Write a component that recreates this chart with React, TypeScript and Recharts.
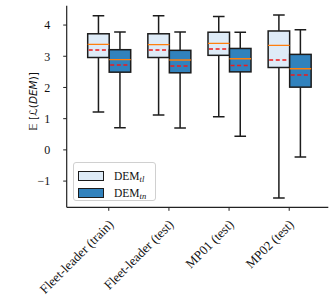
import React from "react";
import { ComposedChart, Bar, XAxis, YAxis } from "recharts";

// box statistics, one entry per category
const categories = [
  "Fleet-leader (train)",
  "Fleet-leader (test)",
  "MP01 (test)",
  "MP02 (test)",
];

const tlMin = [1.21, 1.12, 1.06, -1.54];
const tlQ1 = [2.96, 2.96, 3.03, 2.64];
const tlMedian = [3.38, 3.37, 3.41, 3.35];
const tlMean = [3.2, 3.2, 3.23, 2.88];
const tlQ3 = [3.72, 3.72, 3.77, 3.81];
const tlMax = [4.3, 4.3, 4.27, 4.32];

const tnMin = [0.71, 0.7, 0.44, -0.23];
const tnQ1 = [2.49, 2.47, 2.5, 2.01];
const tnMedian = [2.89, 2.88, 2.92, 2.6];
const tnMean = [2.72, 2.69, 2.7, 2.4];
const tnQ3 = [3.21, 3.19, 3.25, 3.06];
const tnMax = [3.78, 3.78, 3.77, 3.85];

const yTicks = [-1, 0, 1, 2, 3, 4];

const LIGHT = "#deebf7";
const DARK = "#3182bd";
const EDGE = "#1c1c1c";
const SERIF = "'Liberation Serif', 'DejaVu Serif', serif";

const data = categories.map((name, i) => ({
  name,
  tl: [tlMin[i], tlMax[i]],
  tn: [tnMin[i], tnMax[i]],
  tlStats: { min: tlMin[i], q1: tlQ1[i], med: tlMedian[i], mean: tlMean[i], q3: tlQ3[i], max: tlMax[i] },
  tnStats: { min: tnMin[i], q1: tnQ1[i], med: tnMedian[i], mean: tnMean[i], q3: tnQ3[i], max: tnMax[i] },
}));

// the bar is the whisker range [min, max]; everything else is placed on
// the same linear scale the bar was drawn with
function makeBoxShape(key: "tlStats" | "tnStats", fill: string) {
  return (props: any) => {
    const { x, y, width, height, payload } = props;
    const s = payload[key];
    const top = Math.min(y, y + height);
    const bot = Math.max(y, y + height);
    const py = (v: number) => top + ((s.max - v) / (s.max - s.min)) * (bot - top);
    const cx = x + width / 2;
    const cap = width * 0.27;
    return (
      <g>
        <line x1={cx} x2={cx} y1={py(s.max)} y2={py(s.q3)} stroke={EDGE} strokeWidth={1.5} />
        <line x1={cx} x2={cx} y1={py(s.q1)} y2={py(s.min)} stroke={EDGE} strokeWidth={1.5} />
        <line x1={cx - cap} x2={cx + cap} y1={py(s.max)} y2={py(s.max)} stroke={EDGE} strokeWidth={1.5} />
        <line x1={cx - cap} x2={cx + cap} y1={py(s.min)} y2={py(s.min)} stroke={EDGE} strokeWidth={1.5} />
        <rect
          x={x}
          y={py(s.q3)}
          width={width}
          height={py(s.q1) - py(s.q3)}
          fill={fill}
          stroke={EDGE}
          strokeWidth={1.5}
        />
        <line x1={x} x2={x + width} y1={py(s.med)} y2={py(s.med)} stroke="#ff7f0e" strokeWidth={1.3} />
        <line
          x1={x + 1}
          x2={x + width - 1}
          y1={py(s.mean)}
          y2={py(s.mean)}
          stroke="#f01a1a"
          strokeWidth={1.5}
          strokeDasharray="4 2.6"
        />
      </g>
    );
  };
}

function XTick(props: any) {
  const { x, y, payload } = props;
  return (
    <g transform={`translate(${x - 1},${y + 8})`}>
      <text transform="rotate(-45)" textAnchor="end" dy="0.7em" fontFamily={SERIF} fontSize={13} fill="#111">
        {payload.value}
      </text>
    </g>
  );
}

function renderYLabel(props: any) {
  const { viewBox } = props;
  const cy = viewBox.y + viewBox.height / 2 - 5;
  return (
    <text
      x={37}
      y={cy}
      transform={`rotate(-90, 37, ${cy})`}
      textAnchor="middle"
      fontFamily="'DejaVu Sans', sans-serif"
      fontSize={10.5}
      fill="#111"
      style={{ fill: "#111" }}
    >
      {"𝔼 [ℒ("}
      <tspan fontStyle="italic">DEM</tspan>
      {")]"}
    </text>
  );
}

function BoxLegend() {
  const rows = [
    { fill: LIGHT, sub: "tl" },
    { fill: DARK, sub: "tn" },
  ];
  return (
    <div
      style={{
        position: "absolute",
        left: 73,
        top: 162,
        width: 83,
        height: 39,
        border: "1px solid #d0d0d0",
        borderRadius: 3,
        background: "rgba(255,255,255,0.8)",
        boxSizing: "border-box",
        paddingTop: 4,
        paddingLeft: 4,
      }}
    >
      {rows.map((r) => (
        <div key={r.sub} style={{ display: "flex", alignItems: "center", height: 17.5 }}>
          <span
            style={{
              display: "inline-block",
              width: 24,
              height: 8,
              background: r.fill,
              border: `1px solid ${EDGE}`,
            }}
          />
          <span style={{ marginLeft: 10, fontFamily: SERIF, fontSize: 11.5, color: "#111", lineHeight: "12px" }}>
            DEM
            <sub style={{ fontStyle: "italic", fontSize: 8.5, verticalAlign: "-2px", lineHeight: 0 }}>{r.sub}</sub>
          </span>
        </div>
      ))}
    </div>
  );
}

export default function App() {
  return (
    <div style={{ position: "absolute", left: 0, top: 0, width: 335, height: 296, background: "#fff" }}>
      <ComposedChart
        width={335}
        height={296}
        data={data}
        margin={{ top: 5.7, right: 6.7, bottom: 0, left: 6.7 }}
        barGap={0}
      >
        <XAxis
          dataKey="name"
          type="category"
          height={88.7}
          padding={{ left: 12, right: 9 }}
          tickSize={3.5}
          tickMargin={0}
          tick={<XTick />}
          axisLine={{ stroke: "#222", strokeWidth: 1.2 }}
          tickLine={{ stroke: "#222" }}
          interval={0}
        />
        <XAxis xAxisId="top" orientation="top" height={0} tick={false} tickLine={false} axisLine={{ stroke: "#222", strokeWidth: 1.2 }} />
        <YAxis
          type="number"
          domain={[-1.84, 4.62]}
          ticks={yTicks}
          allowDataOverflow
          width={60}
          tickSize={3.5}
          tickMargin={13}
          tickFormatter={(v: number) => String(v).replace("-", "\u2212")}
          tick={{ fontFamily: SERIF, fontSize: 12, fill: "#111" }}
          axisLine={{ stroke: "#222", strokeWidth: 1.2 }}
          tickLine={{ stroke: "#222" }}
          label={{ content: renderYLabel }}
        />
        <YAxis
          yAxisId="right"
          orientation="right"
          width={0}
          domain={[-1.84, 4.62]}
          tick={false}
          tickLine={false}
          axisLine={{ stroke: "#222", strokeWidth: 1.2 }}
        />
        <Bar dataKey="tl" barSize={21.5} shape={makeBoxShape("tlStats", LIGHT)} isAnimationActive={false} />
        <Bar dataKey="tn" barSize={21.5} shape={makeBoxShape("tnStats", DARK)} isAnimationActive={false} />
      </ComposedChart>
      <BoxLegend />
    </div>
  );
}
